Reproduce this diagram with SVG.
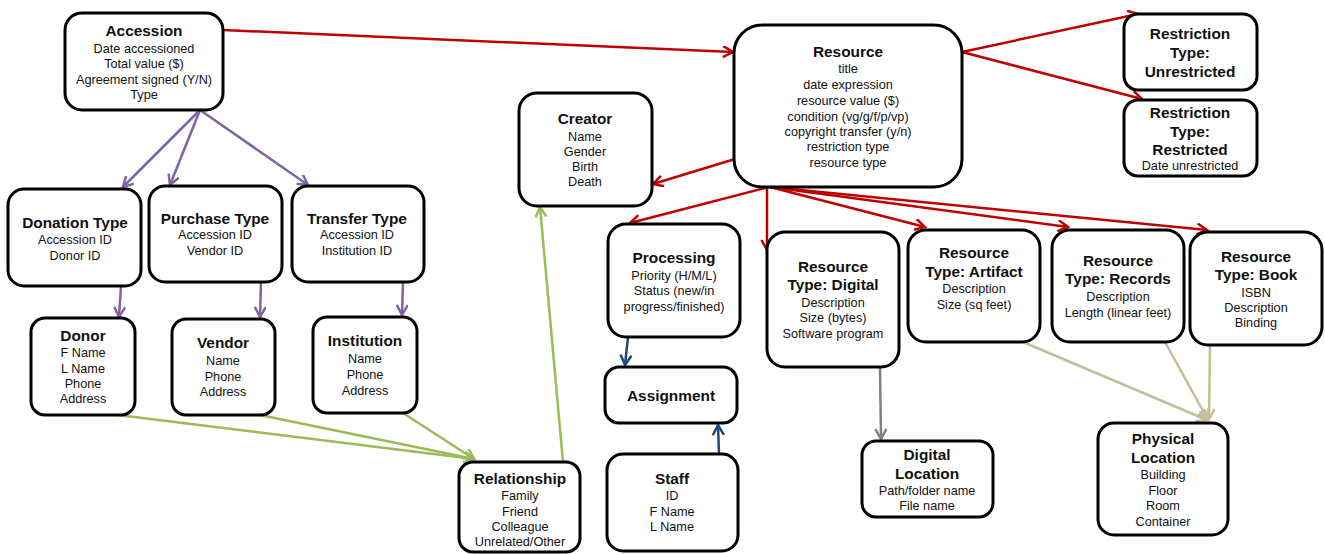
<svg xmlns="http://www.w3.org/2000/svg" width="1325" height="554" viewBox="0 0 1325 554">
<style>
.box{fill:#fff;stroke:#000;stroke-width:3}
text{font-family:"Liberation Sans",Arial,sans-serif;fill:#111;text-anchor:middle}
.t{font-size:15.4px;font-weight:bold}
.b{font-size:12.7px}
.c{fill:none;stroke-width:2.5}
.red{stroke:#C00000}.pur{stroke:#8064A2}.grn{stroke:#9BBB59}.blu{stroke:#1F497D}.gry{stroke:#808080}.tan{stroke:#C4BD97}
</style>
<defs>
<marker id="mr" markerUnits="userSpaceOnUse" markerWidth="14" markerHeight="14" refX="11" refY="6" orient="auto"><path d="M1,0.5 L11,6 L1,11.5" fill="none" stroke="#C00000" stroke-width="2.5"/></marker>
<marker id="mp" markerUnits="userSpaceOnUse" markerWidth="14" markerHeight="14" refX="11" refY="6" orient="auto"><path d="M1,0.5 L11,6 L1,11.5" fill="none" stroke="#8064A2" stroke-width="2.5"/></marker>
<marker id="mg" markerUnits="userSpaceOnUse" markerWidth="14" markerHeight="14" refX="11" refY="6" orient="auto"><path d="M1,0.5 L11,6 L1,11.5" fill="none" stroke="#9BBB59" stroke-width="2.5"/></marker>
<marker id="mb" markerUnits="userSpaceOnUse" markerWidth="14" markerHeight="14" refX="11" refY="6" orient="auto"><path d="M1,0.5 L11,6 L1,11.5" fill="none" stroke="#1F497D" stroke-width="2.5"/></marker>
<marker id="my" markerUnits="userSpaceOnUse" markerWidth="14" markerHeight="14" refX="11" refY="6" orient="auto"><path d="M1,0.5 L11,6 L1,11.5" fill="none" stroke="#808080" stroke-width="2.5"/></marker>
<marker id="mt" markerUnits="userSpaceOnUse" markerWidth="14" markerHeight="14" refX="11" refY="6" orient="auto"><path d="M1,0.5 L11,6 L1,11.5" fill="none" stroke="#C4BD97" stroke-width="2.5"/></marker>
</defs>
<rect width="1325" height="554" fill="#fff"/>
<g id="connectors">
<line class="c red" x1="223" y1="30" x2="733" y2="52" marker-end="url(#mr)"/>
<line class="c red" x1="962" y1="52" x2="1138" y2="14" marker-end="url(#mr)"/>
<line class="c red" x1="962" y1="52" x2="1142" y2="99" marker-end="url(#mr)"/>
<line class="c red" x1="735" y1="159" x2="653" y2="184" marker-end="url(#mr)"/>
<line class="c red" x1="769" y1="187" x2="630" y2="223" marker-end="url(#mr)"/>
<line class="c red" x1="767" y1="187" x2="767" y2="250" marker-end="url(#mr)"/>
<line class="c red" x1="770" y1="187" x2="925" y2="227" marker-end="url(#mr)"/>
<line class="c red" x1="770" y1="187" x2="1068" y2="227" marker-end="url(#mr)"/>
<line class="c red" x1="770" y1="187" x2="1207" y2="230" marker-end="url(#mr)"/>
<line class="c pur" x1="200" y1="110" x2="123" y2="187" marker-end="url(#mp)"/>
<line class="c pur" x1="200" y1="110" x2="170" y2="185" marker-end="url(#mp)"/>
<line class="c pur" x1="200" y1="110" x2="308" y2="185" marker-end="url(#mp)"/>
<line class="c pur" x1="121" y1="286" x2="119" y2="317" marker-end="url(#mp)"/>
<line class="c pur" x1="261" y1="282" x2="260" y2="317" marker-end="url(#mp)"/>
<line class="c pur" x1="403" y1="282" x2="402" y2="315" marker-end="url(#mp)"/>
<line class="c grn" x1="118" y1="415" x2="474" y2="459" marker-end="url(#mg)"/>
<line class="c grn" x1="260" y1="415" x2="474" y2="459" marker-end="url(#mg)"/>
<line class="c grn" x1="403" y1="413" x2="474" y2="459" marker-end="url(#mg)"/>
<line class="c grn" x1="563" y1="462" x2="540" y2="207" marker-end="url(#mg)"/>
<line class="c blu" x1="628" y1="337" x2="625" y2="365" marker-end="url(#mb)"/>
<line class="c blu" x1="719" y1="454" x2="718" y2="425" marker-end="url(#mb)"/>
<line class="c gry" x1="880" y1="368" x2="881" y2="439" marker-end="url(#my)"/>
<line class="c tan" x1="1023" y1="342" x2="1207" y2="420" marker-end="url(#mt)"/>
<line class="c tan" x1="1165" y1="342" x2="1208" y2="420" marker-end="url(#mt)"/>
<line class="c tan" x1="1210" y1="345" x2="1209" y2="419" marker-end="url(#mt)"/>
</g>
<g id="accession"><rect class="box" x="65" y="13" width="158" height="97" rx="17"/>
<text class="t" x="144" y="36">Accession</text>
<text class="b" x="144" y="53">Date accessioned</text><text class="b" x="144" y="68">Total value ($)</text><text class="b" x="144" y="84">Agreement signed (Y/N)</text><text class="b" x="144" y="99">Type</text></g>
<g id="resource"><rect class="box" x="734" y="25" width="228" height="162" rx="28"/>
<text class="t" x="848" y="57">Resource</text>
<text class="b" x="848" y="73">title</text><text class="b" x="848" y="89">date expression</text><text class="b" x="848" y="105">resource value ($)</text><text class="b" x="848" y="121">condition (vg/g/f/p/vp)</text><text class="b" x="848" y="136">copyright transfer (y/n)</text><text class="b" x="848" y="151">restriction type</text><text class="b" x="848" y="167">resource type</text></g>
<g id="unrestricted"><rect class="box" x="1124" y="14" width="133" height="76" rx="14"/>
<text class="t" x="1190" y="39">Restriction</text><text class="t" x="1190" y="58">Type:</text><text class="t" x="1190" y="77">Unrestricted</text></g>
<g id="restricted"><rect class="box" x="1124" y="100" width="133" height="76" rx="14"/>
<text class="t" x="1190" y="118">Restriction</text><text class="t" x="1190" y="137">Type:</text><text class="t" x="1190" y="155">Restricted</text><text class="b" x="1190" y="170">Date unrestricted</text></g>
<g id="creator"><rect class="box" x="519" y="93" width="133" height="113" rx="18"/>
<text class="t" x="585" y="124">Creator</text>
<text class="b" x="585" y="141">Name</text><text class="b" x="585" y="156">Gender</text><text class="b" x="585" y="171">Birth</text><text class="b" x="585" y="186">Death</text></g>
<g id="donation-type"><rect class="box" x="8" y="189" width="133" height="97" rx="16"/>
<text class="t" x="75" y="228">Donation Type</text><text class="b" x="75" y="244">Accession ID</text><text class="b" x="75" y="260">Donor ID</text></g>
<g id="purchase-type"><rect class="box" x="149" y="186" width="133" height="96" rx="16"/>
<text class="t" x="215" y="224">Purchase Type</text><text class="b" x="215" y="239">Accession ID</text><text class="b" x="215" y="255">Vendor ID</text></g>
<g id="transfer-type"><rect class="box" x="292" y="186" width="132" height="96" rx="16"/>
<text class="t" x="357" y="224">Transfer Type</text><text class="b" x="357" y="239">Accession ID</text><text class="b" x="357" y="255">Institution ID</text></g>
<g id="donor"><rect class="box" x="31" y="318" width="104" height="97" rx="14"/>
<text class="t" x="83" y="341">Donor</text><text class="b" x="83" y="357">F Name</text><text class="b" x="83" y="373">L Name</text><text class="b" x="83" y="388">Phone</text><text class="b" x="83" y="403">Address</text></g>
<g id="vendor"><rect class="box" x="172" y="319" width="103" height="96" rx="14"/>
<text class="t" x="223" y="348">Vendor</text><text class="b" x="223" y="365">Name</text><text class="b" x="223" y="381">Phone</text><text class="b" x="223" y="396">Address</text></g>
<g id="institution"><rect class="box" x="313" y="317" width="104" height="96" rx="14"/>
<text class="t" x="365" y="346">Institution</text><text class="b" x="365" y="363">Name</text><text class="b" x="365" y="379">Phone</text><text class="b" x="365" y="395">Address</text></g>
<g id="processing"><rect class="box" x="608" y="224" width="132" height="113" rx="18"/>
<text class="t" x="674" y="263">Processing</text><text class="b" x="674" y="280">Priority (H/M/L)</text><text class="b" x="674" y="295">Status (new/in</text><text class="b" x="674" y="311">progress/finished)</text></g>
<g id="assignment"><rect class="box" x="605" y="367" width="132" height="56" rx="14"/>
<text class="t" x="671" y="401">Assignment</text></g>
<g id="staff"><rect class="box" x="607" y="454" width="131" height="97" rx="16"/>
<text class="t" x="672" y="484">Staff</text><text class="b" x="672" y="500">ID</text><text class="b" x="672" y="516">F Name</text><text class="b" x="672" y="531">L Name</text></g>
<g id="resource-digital"><rect class="box" x="767" y="232" width="132" height="135" rx="18"/>
<text class="t" x="833" y="272">Resource</text><text class="t" x="833" y="290">Type: Digital</text><text class="b" x="833" y="307">Description</text><text class="b" x="833" y="322">Size (bytes)</text><text class="b" x="833" y="338">Software program</text></g>
<g id="resource-artifact"><rect class="box" x="908" y="230" width="132" height="112" rx="18"/>
<text class="t" x="974" y="258">Resource</text><text class="t" x="974" y="277">Type: Artifact</text><text class="b" x="974" y="293">Description</text><text class="b" x="974" y="309">Size (sq feet)</text></g>
<g id="resource-records"><rect class="box" x="1052" y="230" width="132" height="112" rx="18"/>
<text class="t" x="1118" y="266">Resource</text><text class="t" x="1118" y="284">Type: Records</text><text class="b" x="1118" y="301">Description</text><text class="b" x="1118" y="317">Length (linear feet)</text></g>
<g id="resource-book"><rect class="box" x="1190" y="232" width="132" height="113" rx="18"/>
<text class="t" x="1256" y="262">Resource</text><text class="t" x="1256" y="280">Type: Book</text><text class="b" x="1256" y="297">ISBN</text><text class="b" x="1256" y="312">Description</text><text class="b" x="1256" y="327">Binding</text></g>
<g id="digital-location"><rect class="box" x="862" y="441" width="131" height="76" rx="14"/>
<text class="t" x="927" y="460">Digital</text><text class="t" x="927" y="479">Location</text><text class="b" x="927" y="495">Path/folder name</text><text class="b" x="927" y="510">File name</text></g>
<g id="physical-location"><rect class="box" x="1098" y="423" width="130" height="112" rx="16"/>
<text class="t" x="1163" y="444">Physical</text><text class="t" x="1163" y="463">Location</text><text class="b" x="1163" y="479">Building</text><text class="b" x="1163" y="495">Floor</text><text class="b" x="1163" y="510">Room</text><text class="b" x="1163" y="526">Container</text></g>
<g id="relationship"><rect class="box" x="459" y="462" width="121" height="90" rx="14"/>
<text class="t" x="520" y="484">Relationship</text><text class="b" x="520" y="500">Family</text><text class="b" x="520" y="516">Friend</text><text class="b" x="520" y="531">Colleague</text><text class="b" x="520" y="546">Unrelated/Other</text></g>
</svg>
